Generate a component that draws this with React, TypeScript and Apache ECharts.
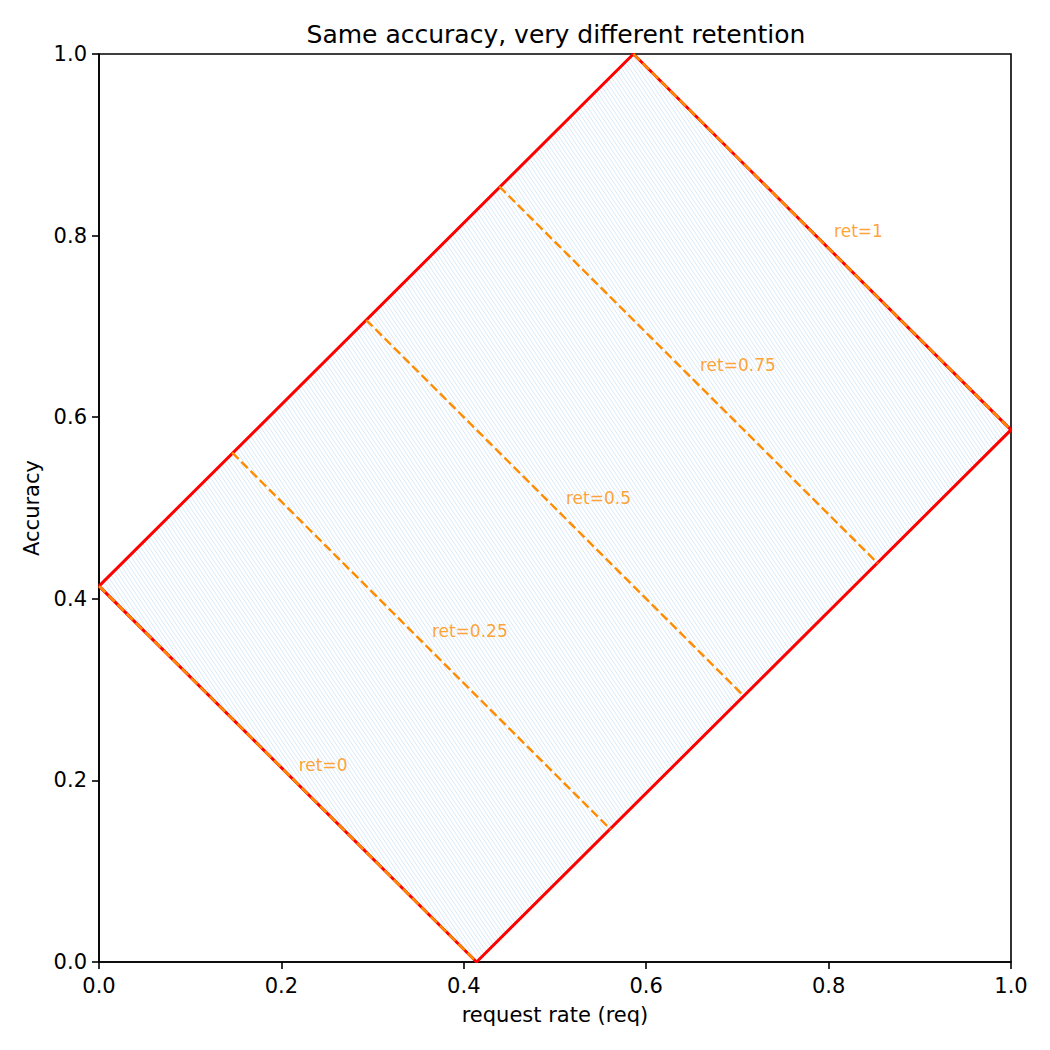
import React, { useEffect, useRef } from "react";
import * as echarts from "echarts";

// Corners of the feasible region (request rate, accuracy), going round clockwise
const regionReq = [0, 0.586, 1.0, 0.414];
const regionAcc = [0.414, 1.0, 0.586, 0];

// Iso-retention lines: start on the upper-left edge, end on the lower-right edge
const retValues = [0, 0.25, 0.5, 0.75, 1];
const retStartReq = [0, 0.146, 0.293, 0.439, 0.586];
const retStartAcc = [0.414, 0.561, 0.707, 0.854, 1.0];
const retEndReq = [0.414, 0.561, 0.707, 0.854, 1.0];
const retEndAcc = [0, 0.146, 0.293, 0.439, 0.586];

// Where each "ret=" label starts
const labelReq = [0.219, 0.365, 0.512, 0.659, 0.806];
const labelAcc = [0.217, 0.364, 0.511, 0.658, 0.805];

const FONT = "DejaVu Sans";

function makeHatchTile(): HTMLCanvasElement {
  const c = document.createElement("canvas");
  c.width = 4;
  c.height = 6;
  const ctx = c.getContext("2d")!;
  ctx.strokeStyle = "rgba(150,195,235,0.35)";
  ctx.lineWidth = 1;
  for (const dx of [-4, 0, 4]) {
    ctx.beginPath();
    ctx.moveTo(dx, 0);
    ctx.lineTo(dx + 4, 6);
    ctx.stroke();
  }
  return c;
}

export default function App() {
  const ref = useRef<HTMLDivElement>(null);

  useEffect(() => {
    if (!ref.current) return;
    const chart = echarts.init(ref.current, null, { renderer: "svg" });
    const hatch = { image: makeHatchTile(), repeat: "repeat" };

    const outline = regionReq.map((x, i) => [x, regionAcc[i]]);
    outline.push([regionReq[0], regionAcc[0]]);

    const retSeries = retValues.map((r, i) => ({
      type: "line",
      name: "ret=" + r,
      data: [
        [retStartReq[i], retStartAcc[i]],
        [retEndReq[i], retEndAcc[i]],
      ],
      symbol: "none",
      z: 4,
      lineStyle: { color: "#ff8c00", width: 2.4, type: [9, 4] },
    }));

    const axisCommon = {
      type: "value",
      min: 0,
      max: 1,
      interval: 0.2,
      nameLocation: "middle",
      nameTextStyle: { fontFamily: FONT, fontSize: 21, color: "#000" },
      axisLine: { show: true, lineStyle: { color: "#000", width: 1.6 } },
      axisTick: { show: true, inside: false, length: 7, lineStyle: { color: "#000", width: 1.6 } },
      splitLine: { show: false },
    };
    const labelCommon = {
      fontFamily: FONT,
      fontSize: 21,
      color: "#000",
      formatter: (v: number) => v.toFixed(1),
    };

    chart.setOption({
      animation: false,
      backgroundColor: "#fff",
      title: {
        text: "Same accuracy, very different retention",
        left: 551,
        textAlign: "center",
        top: 17,
        textStyle: { fontFamily: FONT, fontSize: 25, fontWeight: "normal", color: "#000" },
      },
      grid: {
        left: 99,
        right: 39,
        top: 54,
        bottom: 88,
        show: true,
        borderColor: "#000",
        borderWidth: 1.6,
        backgroundColor: "transparent",
      },
      xAxis: {
        ...axisCommon,
        name: "request rate (req)",
        nameGap: 42,
        axisLabel: { ...labelCommon, margin: 13 },
      },
      yAxis: {
        ...axisCommon,
        name: "Accuracy",
        nameGap: 56,
        axisLabel: { ...labelCommon, margin: 12 },
      },
      series: [
        {
          type: "custom",
          data: [[0]],
          z: 1,
          renderItem: (_params: any, api: any) => ({
            type: "polygon",
            shape: { points: regionReq.map((x, i) => api.coord([x, regionAcc[i]])) },
            style: { fill: hatch as any, stroke: "none" },
          }),
        },
        {
          type: "line",
          data: outline,
          symbol: "none",
          z: 3,
          lineStyle: { color: "#ff0000", width: 3 },
        },
        ...retSeries,
        {
          type: "scatter",
          data: retValues.map((r, i) => ({ value: [labelReq[i], labelAcc[i]], name: "ret=" + r })),
          symbolSize: 0,
          z: 5,
          label: {
            show: true,
            position: "right",
            distance: 0,
            formatter: (p: any) => p.name,
            fontFamily: FONT,
            fontSize: 17,
            color: "#ff8c00",
          },
        },
      ],
    });

    return () => chart.dispose();
  }, []);

  return (
    <div
      ref={ref}
      style={{ position: "fixed", left: 0, top: 0, width: 1050, height: 1050 }}
    />
  );
}
